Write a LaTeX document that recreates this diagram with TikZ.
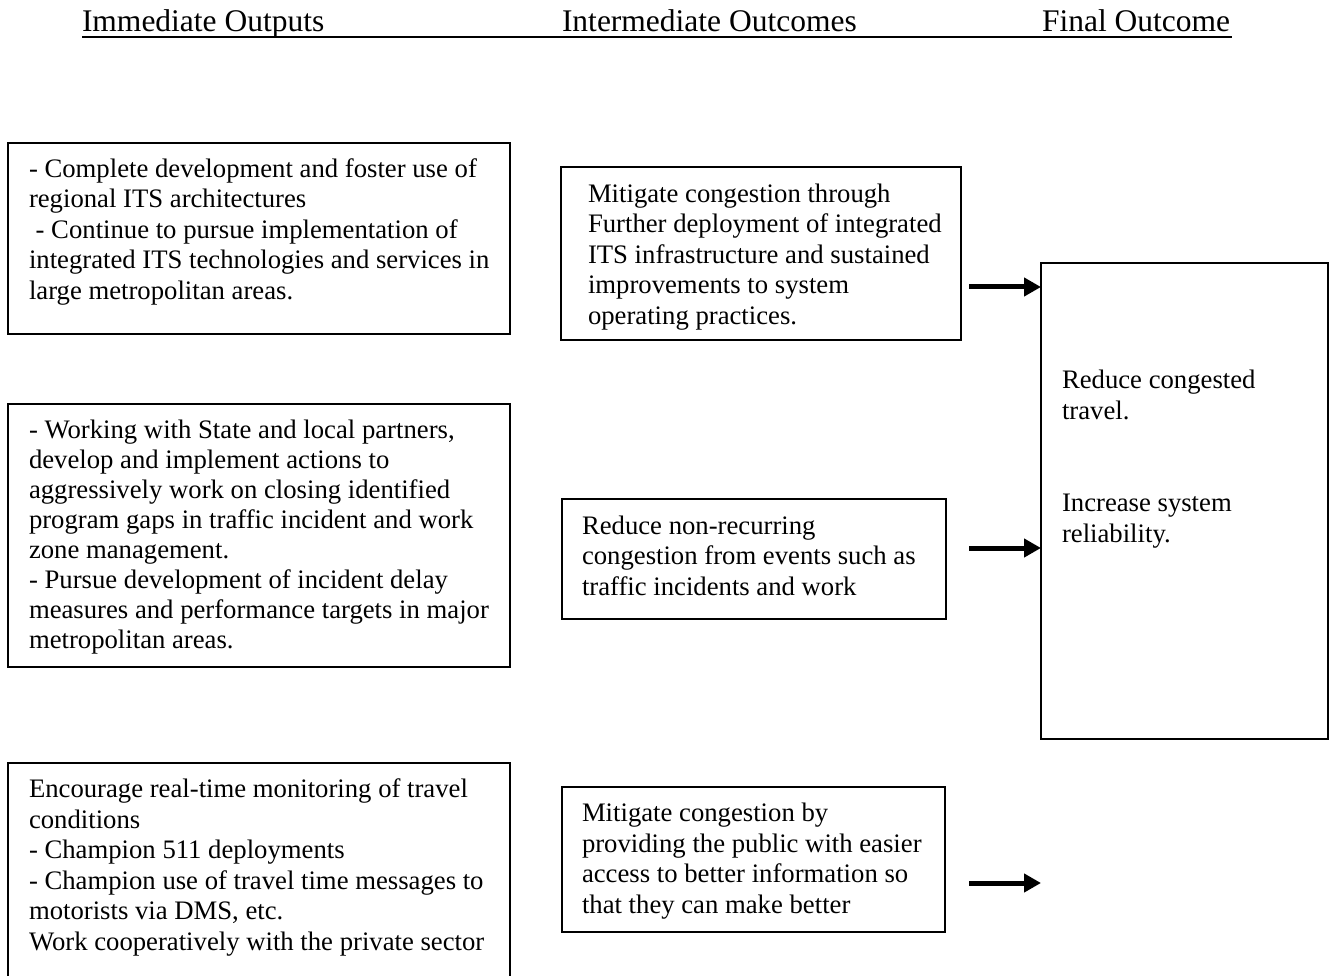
\documentclass[tikz,border=0pt]{standalone}
\usepackage{fontspec}
\setmainfont{Liberation Serif}
\usetikzlibrary{arrows.meta}
\tikzset{
  box/.style={draw=black, line width=2pt, inner sep=0pt, outer sep=0pt},
  txt/.style={anchor=base west, align=left, inner sep=0pt, outer sep=0pt,
    font=\fontsize{26.7}{30.5}\selectfont},
  txttight/.style={txt, font=\fontsize{26.7}{30}\selectfont},
  head/.style={anchor=base west, inner sep=0pt, outer sep=0pt,
    font=\fontsize{31.5}{36}\selectfont},
  arr/.style={line width=5pt, -{Triangle[length={17pt 0}, width={18pt 0}]}},
}
\begin{document}
\begin{tikzpicture}[x=1pt,y=-1pt]
\useasboundingbox (0,0) rectangle (1330,976);
\clip (0,0) rectangle (1330,976);
\fill[white] (0,0) rectangle (1330,976);

% headers
\node[head] (h1) at (82,32) {Immediate Outputs};
\node[head] (h2) at (562,32) {Intermediate Outcomes};
\node[head] (h3) at (1042,32) {Final Outcome};
\draw[line width=2pt] (82,37.5) -- (1232,37.5);

% left column boxes (text nodes anchored at the baseline of their last line)
\node[box, minimum width=502pt, minimum height=191pt, anchor=north west] (A1) at (8,143) {};
\node[txt] (tA1) at (29,299) {- Complete development and foster use of\\regional ITS architectures\\\hspace*{0.25em}- Continue to pursue implementation of\\integrated ITS technologies and services in\\large metropolitan areas.};

\node[box, minimum width=502pt, minimum height=263pt, anchor=north west] (A2) at (8,404) {};
\node[txttight] (tA2) at (29,648) {- Working with State and local partners,\\develop and implement actions to\\aggressively work on closing identified\\program gaps in traffic incident and work\\zone management.\\- Pursue development of incident delay\\measures and performance targets in major\\metropolitan areas.};

\node[box, minimum width=502pt, minimum height=240pt, anchor=north west] (A3) at (8,763) {};
\node[txt] (tA3) at (29,950) {Encourage real-time monitoring of travel\\conditions\\- Champion 511 deployments\\- Champion use of travel time messages to\\motorists via DMS, etc.\\Work cooperatively with the private sector};

% middle column boxes
\node[box, minimum width=400pt, minimum height=173pt, anchor=north west] (B1) at (561,167) {};
\node[txt] (tB1) at (588,324) {Mitigate congestion through\\Further deployment of integrated\\ITS infrastructure and sustained\\improvements to system\\operating practices.};

\node[box, minimum width=384pt, minimum height=120pt, anchor=north west] (B2) at (562,499) {};
\node[txt] (tB2) at (582,595) {Reduce non-recurring\\congestion from events such as\\traffic incidents and work};

\node[box, minimum width=383pt, minimum height=145pt, anchor=north west] (B3) at (562,787) {};
\node[txt] (tB3) at (582,913) {Mitigate congestion by\\providing the public with easier\\access to better information so\\that they can make better};

% final outcome box
\node[box, minimum width=287pt, minimum height=476pt, anchor=north west] (C) at (1041,263) {};
\node[txt] (tC1) at (1062,419) {Reduce congested\\travel.};
\node[txt] (tC2) at (1062,542) {Increase system\\reliability.};

% arrows
\coordinate (s1) at (969,287);
\coordinate (s2) at (969,548);
\coordinate (s3) at (969,883);
\draw[arr] (s1) -- (s1 -| C.west);
\draw[arr] (s2) -- (s2 -| C.west);
\draw[arr] (s3) -- (s3 -| C.west);
\end{tikzpicture}
\end{document}
